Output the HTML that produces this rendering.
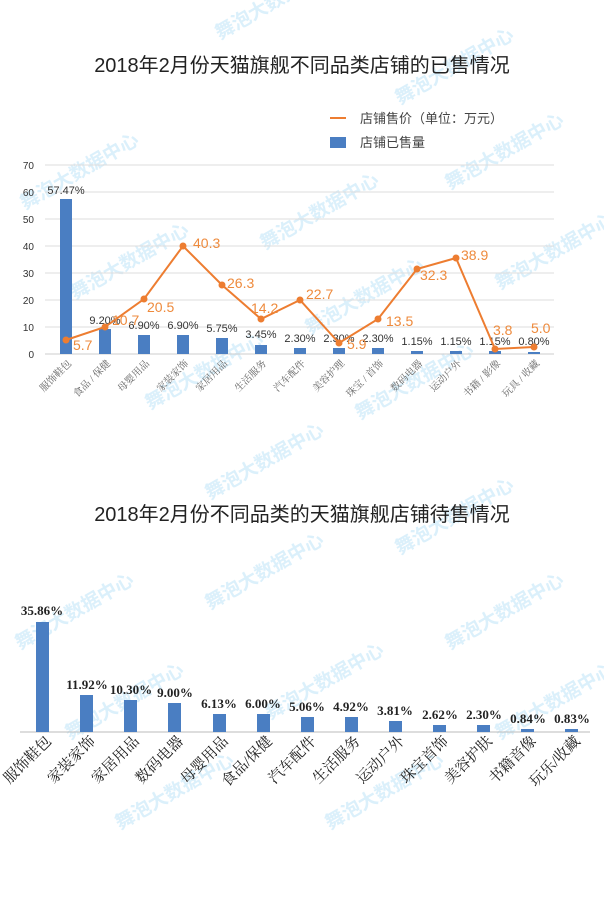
<!DOCTYPE html>
<html><head><meta charset="utf-8"><style>
body{margin:0;background:#fff}
svg{display:block}
.wm{fill:#c4e6f8;font-family:"Liberation Sans","Noto Sans CJK SC",sans-serif;font-size:19px;font-weight:bold;opacity:.6}
</style></head><body>
<svg width="604" height="900" viewBox="0 0 604 900" xmlns="http://www.w3.org/2000/svg">
<rect width="604" height="900" fill="#fff"/>
<g class="wm">
<text transform="translate(220,40) rotate(-30)">舞泡大数据中心</text>
<text transform="translate(400,105) rotate(-30)">舞泡大数据中心</text>
<text transform="translate(25,210) rotate(-30)">舞泡大数据中心</text>
<text transform="translate(265,250) rotate(-30)">舞泡大数据中心</text>
<text transform="translate(450,190) rotate(-30)">舞泡大数据中心</text>
<text transform="translate(75,300) rotate(-30)">舞泡大数据中心</text>
<text transform="translate(500,290) rotate(-30)">舞泡大数据中心</text>
<text transform="translate(310,335) rotate(-30)">舞泡大数据中心</text>
<text transform="translate(150,410) rotate(-30)">舞泡大数据中心</text>
<text transform="translate(360,420) rotate(-30)">舞泡大数据中心</text>
<text transform="translate(210,500) rotate(-30)">舞泡大数据中心</text>
<text transform="translate(400,555) rotate(-30)">舞泡大数据中心</text>
<text transform="translate(20,650) rotate(-30)">舞泡大数据中心</text>
<text transform="translate(210,610) rotate(-30)">舞泡大数据中心</text>
<text transform="translate(450,650) rotate(-30)">舞泡大数据中心</text>
<text transform="translate(70,740) rotate(-30)">舞泡大数据中心</text>
<text transform="translate(270,720) rotate(-30)">舞泡大数据中心</text>
<text transform="translate(500,740) rotate(-30)">舞泡大数据中心</text>
<text transform="translate(120,830) rotate(-30)">舞泡大数据中心</text>
<text transform="translate(330,830) rotate(-30)">舞泡大数据中心</text>
</g>
<g font-family="Liberation Sans,Noto Sans CJK SC,sans-serif">
<text x="302" y="72" text-anchor="middle" font-size="20" fill="#222">2018年2月份天猫旗舰不同品类店铺的已售情况</text>
<line x1="330" y1="118" x2="346" y2="118" stroke="#ED7D31" stroke-width="2"/>
<text x="360" y="123" font-size="13" fill="#444">店铺售价（单位：万元）</text>
<rect x="330" y="137" width="16" height="11" fill="#4A7EC2"/>
<text x="360" y="147" font-size="13" fill="#444">店铺已售量</text>
<g stroke="#ddd" stroke-width="1">
<line x1="45" y1="165" x2="554" y2="165"/><line x1="45" y1="192" x2="554" y2="192"/>
<line x1="45" y1="219" x2="554" y2="219"/><line x1="45" y1="246" x2="554" y2="246"/>
<line x1="45" y1="273" x2="554" y2="273"/><line x1="45" y1="300" x2="554" y2="300"/>
<line x1="45" y1="327" x2="554" y2="327"/><line x1="45" y1="354" x2="554" y2="354" stroke="#ccc"/>
</g>
<g font-size="10" fill="#333" text-anchor="end">
<text x="34" y="169">70</text><text x="34" y="196">60</text><text x="34" y="223">50</text>
<text x="34" y="250">40</text><text x="34" y="277">30</text><text x="34" y="304">20</text>
<text x="34" y="331">10</text><text x="34" y="358">0</text>
</g>
<g fill="#4A7EC2">
<rect x="60" y="199" width="12" height="155"/>
<rect x="99" y="329" width="12" height="25"/>
<rect x="138" y="335" width="12" height="19"/>
<rect x="177" y="335" width="12" height="19"/>
<rect x="216" y="338" width="12" height="16"/>
<rect x="255" y="345" width="12" height="9"/>
<rect x="294" y="348" width="12" height="6"/>
<rect x="333" y="348" width="12" height="6"/>
<rect x="372" y="348" width="12" height="6"/>
<rect x="411" y="351" width="12" height="3"/>
<rect x="450" y="351" width="12" height="3"/>
<rect x="489" y="351" width="12" height="3"/>
<rect x="528" y="352" width="12" height="2"/>
</g>
<g font-size="11" fill="#333" text-anchor="middle">
<text x="66" y="194">57.47%</text><text x="105" y="324">9.20%</text><text x="144" y="329">6.90%</text>
<text x="183" y="329">6.90%</text><text x="222" y="332">5.75%</text><text x="261" y="338">3.45%</text>
<text x="300" y="342">2.30%</text><text x="339" y="342">2.30%</text><text x="378" y="342">2.30%</text>
<text x="417" y="345">1.15%</text><text x="456" y="345">1.15%</text><text x="495" y="345">1.15%</text>
<text x="534" y="345">0.80%</text>
</g>
<polyline fill="none" stroke="#ED7D31" stroke-width="2" points="66,340 105,327 144,299 183,246 222,285 261,319 300,300 339,343 378,319 417,269 456,258 495,349 534,347"/>
<g fill="#ED7D31">
<circle cx="66" cy="340" r="3.5"/><circle cx="105" cy="327" r="3.5"/><circle cx="144" cy="299" r="3.5"/>
<circle cx="183" cy="246" r="3.5"/><circle cx="222" cy="285" r="3.5"/><circle cx="261" cy="319" r="3.5"/>
<circle cx="300" cy="300" r="3.5"/><circle cx="339" cy="343" r="3.5"/><circle cx="378" cy="319" r="3.5"/>
<circle cx="417" cy="269" r="3.5"/><circle cx="456" cy="258" r="3.5"/><circle cx="495" cy="349" r="3.5"/>
<circle cx="534" cy="347" r="3.5"/>
</g>
<g font-size="14" fill="#EE8A3C">
<text x="73" y="350">5.7</text><text x="112" y="325">10.7</text><text x="147" y="312">20.5</text>
<text x="193" y="248">40.3</text><text x="227" y="288">26.3</text><text x="251" y="313">14.2</text>
<text x="306" y="299">22.7</text><text x="347" y="349">5.9</text><text x="386" y="326">13.5</text>
<text x="420" y="280">32.3</text><text x="461" y="260">38.9</text><text x="493" y="335">3.8</text>
<text x="531" y="333">5.0</text>
</g>
<g font-size="10" fill="#666" text-anchor="end" font-family="Liberation Serif,Noto Serif CJK SC,serif">
<text transform="translate(72,364) rotate(-45)">服饰鞋包</text>
<text transform="translate(111,364) rotate(-45)">食品 / 保健</text>
<text transform="translate(150,364) rotate(-45)">母婴用品</text>
<text transform="translate(189,364) rotate(-45)">家装家饰</text>
<text transform="translate(228,364) rotate(-45)">家居用品</text>
<text transform="translate(267,364) rotate(-45)">生活服务</text>
<text transform="translate(306,364) rotate(-45)">汽车配件</text>
<text transform="translate(345,364) rotate(-45)">美容护理</text>
<text transform="translate(384,364) rotate(-45)">珠宝 / 首饰</text>
<text transform="translate(423,364) rotate(-45)">数码电器</text>
<text transform="translate(462,364) rotate(-45)">运动户外</text>
<text transform="translate(501,364) rotate(-45)">书籍 / 影像</text>
<text transform="translate(540,364) rotate(-45)">玩具 / 收藏</text>
</g>

<text x="302" y="521" text-anchor="middle" font-size="20" fill="#222">2018年2月份不同品类的天猫旗舰店铺待售情况</text>
<line x1="20" y1="732" x2="590" y2="732" stroke="#bbb"/>
<g fill="#4A7EC2">
<rect x="36" y="622" width="13" height="110"/>
<rect x="80" y="695" width="13" height="37"/>
<rect x="124" y="700" width="13" height="32"/>
<rect x="168" y="703" width="13" height="29"/>
<rect x="213" y="714" width="13" height="18"/>
<rect x="257" y="714" width="13" height="18"/>
<rect x="301" y="717" width="13" height="15"/>
<rect x="345" y="717" width="13" height="15"/>
<rect x="389" y="721" width="13" height="11"/>
<rect x="433" y="725" width="13" height="7"/>
<rect x="477" y="725" width="13" height="7"/>
<rect x="521" y="729" width="13" height="3"/>
<rect x="565" y="729" width="13" height="3"/>
</g>
<g font-size="13" font-weight="bold" fill="#222" text-anchor="middle" font-family="Liberation Serif,serif">
<text x="42" y="615">35.86%</text><text x="87" y="689">11.92%</text><text x="131" y="694">10.30%</text>
<text x="175" y="697">9.00%</text><text x="219" y="708">6.13%</text><text x="263" y="708">6.00%</text>
<text x="307" y="711">5.06%</text><text x="351" y="711">4.92%</text><text x="395" y="715">3.81%</text>
<text x="440" y="719">2.62%</text><text x="484" y="719">2.30%</text><text x="528" y="723">0.84%</text>
<text x="572" y="723">0.83%</text>
</g>
<g font-size="15" fill="#222" text-anchor="end" font-family="Liberation Serif,Noto Serif CJK SC,serif">
<text transform="translate(52,742) rotate(-45)">服饰鞋包</text>
<text transform="translate(96,742) rotate(-45)">家装家饰</text>
<text transform="translate(140,742) rotate(-45)">家居用品</text>
<text transform="translate(184,742) rotate(-45)">数码电器</text>
<text transform="translate(229,742) rotate(-45)">母婴用品</text>
<text transform="translate(273,742) rotate(-45)">食品/保健</text>
<text transform="translate(317,742) rotate(-45)">汽车配件</text>
<text transform="translate(361,742) rotate(-45)">生活服务</text>
<text transform="translate(405,742) rotate(-45)">运动户外</text>
<text transform="translate(449,742) rotate(-45)">珠宝首饰</text>
<text transform="translate(493,742) rotate(-45)">美容护肤</text>
<text transform="translate(537,742) rotate(-45)">书籍音像</text>
<text transform="translate(581,742) rotate(-45)">玩乐/收藏</text>
</g>
</g>
</svg>
</body></html>
